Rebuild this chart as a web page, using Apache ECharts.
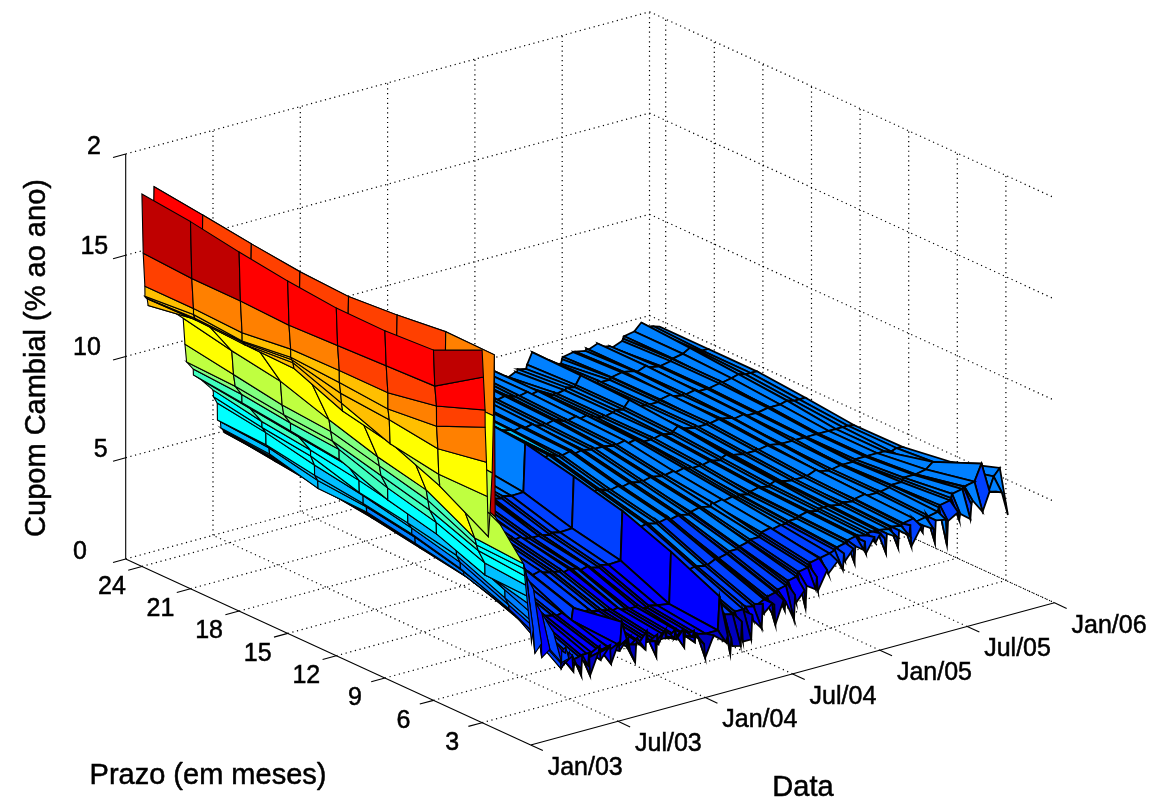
<!DOCTYPE html>
<html><head><meta charset="utf-8">
<style>html,body{margin:0;background:#fff}#c{width:1158px;height:810px}</style>
<script src="https://cdn.jsdelivr.net/npm/echarts@6/dist/echarts.min.js"></script>
</head><body><div id="c"></div>
<script>
// Tick values and labels
const dateTicks=[0,1,2,3,4,5,6];
const dateLabels=['Jan/03','Jul/03','Jan/04','Jul/04','Jan/05','Jul/05','Jan/06'];
const prazoTicks=[24,21,18,15,12,9,6,3];
const zTicks=[0,5,10,15,20];
const zLabels=['0','5','10','15','2'];
// Surface columns: prazo in months
const prazoCols=[24,21,18,15,12,9,6,3,2.5];
// Surface rows: date in half-years since Jan/03
const rowDates=[0,.015,.034,.035,.05,.06,.072,.09,.115,.13,.14,.15,.2,
.473,.493,.512,.588,.59,.684,.817,.82,.863,.865,.90,.905,
.94,.952,.964,1.03,1.042,1.054,1.12,1.132,1.144,1.24,1.252,1.264,1.36,1.372,1.384,1.47,1.482,1.58,1.6,
1.66,1.672,1.684,1.78,1.792,1.804,1.89,1.902,1.914,1.926,2,2.012,2.024,2.11,2.122,2.134,2.21,2.222,2.234,2.32,2.332,2.344,2.356,2.45,2.462,2.56,2.7,2.72,
2.75,2.762,2.774,2.87,2.882,2.894,2.99,3.002,3.014,3.11,3.122,3.134,3.23,3.242,3.254,3.266,3.36,3.372,3.384,3.48,3.492,3.504,3.6,3.612,3.624,3.73,3.742,3.754,3.86,3.872,3.98,
4.04,4.052,4.064,4.16,4.172,4.184,4.28,4.292,4.304,4.4,4.412,4.47,4.52,4.532,4.544,4.66,4.672,4.684,4.8,4.812,4.824,4.94,4.952,4.964,5.08,5.092,5.104,5.22,5.232,5.244,5.36,5.372,5.384,5.5,5.512,5.524,5.64,5.72,5.8,5.86,5.93];
// Cupom cambial (% ao ano), one list per row, one value per prazo column
const rowValues=[
[18.39,18.13,17.73,17.4,17.17,17.15,17.3,18.4,null],
[15.45,15.3,15.3,15.2,15.3,15.4,15.5,17.05,null],
[13.8,13.8,13.7,14,14.05,14.05,14.5,15.4,null],
[13.3,13.5,13.3,13.6,13.45,13.25,13.5,14.55,null],
[13.2,13.3,13.2,13.45,12.9,12.7,12.37,12.8,null],
[13.15,13.2,13.1,13.3,12.4,11.5,11.1,11.1,null],
[12.8,13.2,13.05,13,12,11.5,10.5,9.1,null],
[13.3,13.4,13.3,13.2,12.6,12,11,10.2,null],
[14,14,13.9,13.7,13.3,13,12.4,12.2,null],
[16.8,15.5,15.5,15.5,15.5,15.5,15,15,null],
[18.59,18.29,17.97,17.7,17.57,17.76,18.04,18,null],
[13.3,13.6,13.5,13.4,12.5,12,11,10,null],
[12.8,12.8,12.8,12.8,12.3,11.9,10.9,9.6,null],
[11.7,11.2,10.8,10,9.27,8.74,7.46,7.3,3.6],
[10.4,10,9.6,9.4,8.8,8.2,7.1,7,4.2],
[9.5,9.4,9.1,8.9,8.3,7.7,6.8,6.6,3],
[9.06,8.9,8.6,8.4,7.6,7,6.1,5.9,3.4],
[8.77,8.5,8.2,7.9,7,6.43,5.5,5.4,2.7],
[8.4,8.1,7.8,7.5,6.7,6.1,5.2,4.6,3],
[7.75,7.3,7,6.6,6.1,5.5,4.5,3.5,2.2],
[7.42,7,6.7,6,5.6,5.1,4.1,3.1,2.8],
[7.06,6.7,6.2,5.8,5.3,4.7,3.7,2.7,2.6],
[6.22,6.1,5.7,5.4,5,4.4,3.5,2.3,2.9],
[6.09,5.9,5.4,5.2,4.8,4.2,3.4,1.9,2.3],
[5.78,5.6,5.0,4.94,4.5,4.03,3.3,1.6,2.6],
[5.6,5.4,5,4.8,4.4,3.9,3.1,1.8,2.4],
[5.5,5.3,5,4.7,4.3,3.9,3,1.9,1.6],
[5.5,5.2,4.9,4.6,4.2,3.8,3,1.9,2],
[5.4,5.2,4.8,4.6,4.2,3.7,2.9,1.8,1.7],
[5.5,5.3,5,4.7,4.3,3.8,3,2,1.3],
[5.4,5.1,4.8,4.5,4.1,3.7,2.9,1.9,2.3],
[5.3,5,4.7,4.5,4,3.6,2.8,1.9,1.7],
[5.4,5.2,4.9,4.6,4.1,3.7,2.9,2,2.3],
[5.3,5,4.7,4.4,3.9,3.5,2.8,1.9,1.17],
[5.2,4.9,4.6,4.3,3.8,3.4,2.7,1.8,2.2],
[5.3,5,4.7,4.4,4,3.6,2.8,2,2.5],
[5.2,4.9,4.6,4.3,3.9,3.5,2.7,1.9,1.8],
[5.2,4.9,4.5,4.3,3.8,3.4,2.6,1.9,2.3],
[5.3,5,4.7,4.4,3.9,3.5,2.7,2,2.4],
[5.1,4.8,4.5,4.2,3.7,3.3,2.5,1.8,1.47],
[5.2,4.9,4.6,4.3,3.8,3.4,2.6,1.9,2.4],
[5.1,4.8,4.5,4.2,3.7,3.3,2.4,1.9,2],
[5,4.7,4.4,4.1,3.6,3.2,2.1,1.96,2.5],
[5.2,4.9,4.6,4.3,3.9,3.5,2.7,3.1,1.9],
[5,4.7,4.4,4.1,3.6,3.1,2.2,1.8,1.22],
[5.1,4.8,4.5,4.2,3.7,3.2,2.4,1.9,2.1],
[5,4.7,4.4,4.1,3.6,3.1,2.3,1.8,2.4],
[5.1,4.8,4.5,4.2,3.7,3.2,2.4,1.9,1.7],
[5,4.7,4.4,4,3.5,3.1,2.2,1.8,2.6],
[5,4.7,4.4,4.1,3.6,3.1,2.3,1.9,2.2],
[4.9,4.6,4.3,4,3.5,3,2.2,1.8,2],
[5,4.7,4.4,4.1,3.6,3.1,2.3,1.9,1.22],
[4.9,4.6,4.3,3.9,3.4,2.9,2.1,1.8,2.3],
[5,4.7,4.3,4,3.5,3,2.2,1.8,1.8],
[4.9,4.6,4.2,3.9,3.4,2.9,2.1,1.7,2.4],
[4.9,4.6,4.3,4,3.5,3,2.2,1.8,2],
[4.8,4.5,4.2,3.9,3.3,2.8,2,1.7,2.3],
[4.9,4.6,4.3,3.9,3.4,2.9,2.1,1.8,1.9],
[4.8,4.5,4.2,3.8,3.3,2.8,2,1.7,2.3],
[4.9,4.6,4.3,3.9,3.3,2.9,2,1.7,1.8],
[4.8,4.5,4.1,3.8,3.2,2.8,1.9,1.6,2.2],
[4.9,4.6,4.2,3.9,3.3,2.8,2,1.7,1.3],
[4.8,4.5,4.1,3.8,3.2,2.7,1.9,1.6,2.1],
[4.8,4.5,4.2,3.9,3.2,2.8,1.9,1.6,1.7],
[4.9,4.6,4.2,3.9,3.3,2.8,2,1.6,2],
[4.8,4.5,4.1,3.8,3.2,2.7,1.8,1.5,1.4],
[4.8,4.5,4.2,3.9,3.2,2.7,1.8,1.5,1.8],
[4.7,4.4,4.1,3.8,3.1,2.6,1.7,1.4,1.2],
[4.8,4.5,4.1,3.9,3.2,2.7,1.8,1.5,.5],
[4.7,4.4,4.1,3.8,3.1,2.6,1.7,1.4,1.5],
[4.7,4.4,4.1,3.81,3.13,2.64,1.6,1.4,1],
[6.7,6.5,6.4,6.2,5.67,5.07,4.15,3.04,1.3],
[5.9,5.8,5.6,5.5,5,4.4,3.4,2.3,.35],
[5.6,5.5,5.4,5.2,4.7,4.1,3.1,2,1.1],
[5.7,5.6,5.5,5.3,4.8,4.2,3.2,2.1,.72],
[5.5,5.4,5.3,5.1,4.6,4,3,2,.62],
[5.6,5.5,5.4,5.2,4.7,4.1,3,2,1.8],
[5.5,5.4,5.3,5.2,4.6,4,3,2.1,.8],
[5.6,5.5,5.4,5.3,4.7,4.1,3.1,2.1,.8],
[5.5,5.4,5.3,5.2,4.6,4,3,2,2],
[5.5,5.5,5.4,5.3,4.7,4.1,3.1,2.2,1.7],
[5.4,5.4,5.3,5.1,4.5,4,3,2.1,1.2],
[5.5,5.4,5.3,5.2,4.6,4.1,3.1,2.2,2.4],
[5.4,5.3,5.2,5.1,4.5,4,3,2.1,1.9],
[5.5,5.4,5.3,5.2,4.6,4.1,3.2,2.3,2.3],
[5.4,5.3,5.2,5.1,4.5,4,3.1,2.2,1.7],
[5.5,5.4,5.3,5.2,4.6,4.1,3.2,2.3,2.2],
[5.3,5.3,5.2,5,4.5,4,3.2,2.4,1.2],
[5.4,5.4,5.3,5.1,4.6,4.1,3.3,2.5,2.3],
[5.3,5.2,5.1,5,4.5,4,3.3,2.5,1.8],
[5.4,5.3,5.2,5.1,4.6,4.1,3.4,2.6,2.2],
[5.3,5.2,5.1,5,4.5,4,3.4,2.7,1.2],
[5.4,5.3,5.2,5.1,4.6,4.1,3.5,2.8,2.4],
[5.3,5.2,5.1,5,4.5,4.1,3.5,2.9,2],
[5.4,5.3,5.2,5,4.6,4.2,3.6,3,2.5],
[5.2,5.2,5.1,4.9,4.5,4.1,3.6,3.1,1.6],
[5.3,5.3,5.2,5,4.6,4.2,3.7,3.2,2.7],
[5.2,5.1,5,4.9,4.5,4.1,3.7,3.3,2.4],
[5.3,5.2,5.1,5,4.6,4.3,3.8,3.4,3],
[5.1,5.1,5,4.9,4.5,4.2,3.9,3.5,2.3],
[5.2,5.2,5.1,5,4.6,4.3,4,3.6,3.2],
[5,5,4.9,4.8,4.5,4.2,3.9,3.6,3],
[5.1,5.1,5,4.9,4.6,4.3,4,3.7,3.5],
[4.2,4.8,4.8,4.8,4.5,4.2,4,3.8,3],
[4.6,4.9,4.9,4.8,4.6,4.3,4.1,3.9,3.8],
[4.4,4.8,4.8,4.7,4.5,4.3,4.1,3.9,3.4],
[4.3,4.7,4.7,4.7,4.5,4.2,4.1,4,3.9],
[4.5,4.8,4.8,4.8,4.6,4.3,4.2,4.1,3.2],
[4.4,4.7,4.7,4.7,4.5,4.3,4.2,4.1,4],
[4.6,4.8,4.8,4.8,4.6,4.4,4.3,4.2,3.7],
[4.5,4.7,4.7,4.7,4.5,4.3,4.2,4.1,4.1],
[4.7,4.9,4.9,4.8,4.6,4.4,4.3,4.2,3.5],
[4.6,4.8,4.8,4.7,4.5,4.3,4.2,4.1,4.2],
[4.8,4.9,4.9,4.8,4.6,4.4,4.3,4.2,3.9],
[5.35,5.3,5.2,5,4.7,4.5,4.3,4.2,4.3],
[4.9,4.9,4.9,4.8,4.6,4.4,4.3,4.2,4],
[4.7,4.8,4.8,4.7,4.5,4.3,4.2,4.1,3.26],
[4.8,4.8,4.8,4.8,4.6,4.4,4.3,4.2,4.2],
[4.6,4.7,4.7,4.7,4.5,4.3,4.2,4.1,3.9],
[4.7,4.8,4.8,4.8,4.6,4.4,4.3,4.2,3.36],
[4.5,4.7,4.7,4.7,4.5,4.3,4.3,4.2,4.2],
[4.4,4.7,4.7,4.7,4.5,4.3,4.2,4.1,3.8],
[4.6,4.8,4.8,4.8,4.6,4.4,4.3,4.2,4.3],
[4.7,4.8,4.8,4.7,4.5,4.3,4.3,4.2,3.24],
[4.8,4.9,4.9,4.8,4.6,4.5,4.4,4.3,4.1],
[4.7,4.8,4.8,4.7,4.5,4.4,4.3,4.2,3.8],
[4.8,4.9,4.8,4.8,4.6,4.4,4.3,4.1,4.1],
[4.7,4.8,4.7,4.7,4.5,4.3,4.3,4.2,3.8],
[4.8,4.8,4.8,4.7,4.5,4.4,4.4,4.3,3.14],
[4.7,4.7,4.7,4.6,4.5,4.3,4.3,4.2,4.2],
[4.9,4.9,4.8,4.7,4.5,4.4,4.4,4.3,4.1],
[4.8,4.8,4.8,4.7,4.6,4.4,4.5,4.5,2.82],
[4.7,4.8,4.7,4.6,4.5,4.4,4.5,4.6,4],
[4.6,4.7,4.7,4.6,4.5,4.4,4.5,4.7,4.3],
[4.5,4.7,4.7,4.6,4.5,4.4,4.6,4.8,3.9],
[4.5,4.7,4.7,4.6,4.5,4.5,4.7,5,4.2],
[4.7,4.8,4.8,4.7,4.5,4.5,4.7,5.1,3.8],
[4.8,4.9,4.9,4.7,4.5,4.5,4.7,5.2,4.5],
[4.9,4.9,4.8,4.7,4.5,4.5,4.7,5.2,4.7],
[5,5,4.9,4.7,4.5,4.5,4.8,5.3,4],
[5.35,5.2,5,4.8,4.5,4.5,5.08,6.1,4.9],
[5,5,4.9,4.7,4.5,4.4,4.3,4.6,4.8],
[5,4.9,4.9,4.7,4.5,4.5,4.7,5.3,4.7],
[4.9,4.9,4.9,4.7,4.45,4.47,4.83,5.64,3.5]
];
// Colour scale
const jetColours=['#0000BF','#0000FF','#0040FF','#0080FF','#00BFFF','#00FFFF','#40FFBF','#80FF80','#BFFF40','#FFFF00','#FFBF00','#FF8000','#FF4000','#FF0000','#BF0000','#800000'];
const colourMin=.3, colourStep=1.255;

// Orthographic view of the box (date D, prazo p, value z) onto the chart plane
function project(D,p,z){return [530.7+87.3*D-16.2*p, 745-23.7*D-7.44*p-20.25*z];}
function colourOf(v){let k=Math.floor((v-colourMin)/colourStep);return jetColours[Math.max(0,Math.min(15,k))];}

// Guides
const P_MAX=25,D_MAX=6,Z_MAX=20;
const guides=[];
function add(a,b,kind){guides.push([a,b,kind]);}
prazoTicks.forEach(p=>{add([0,p,0],[D_MAX,p,0],'dot');add([D_MAX,p,0],[D_MAX,p,Z_MAX],'dot');add([0,p,0],[-.157,p,0],'solid');});
dateTicks.forEach(d=>{if(d>0){add([d,0,0],[d,P_MAX,0],'dot');add([d,P_MAX,0],[d,P_MAX,Z_MAX],'dot');}add([d,0,0],[d,-.75,0],'solid');});
zTicks.forEach(z=>{add([0,P_MAX,z],[D_MAX,P_MAX,z],'dot');add([D_MAX,P_MAX,z],[D_MAX,0,z],'dot');add([0,P_MAX,z],[-.145,P_MAX,z],'solid');});
add([0,P_MAX,0],[0,P_MAX,Z_MAX],'solid');
add([0,0,0],[0,P_MAX,0],'solid');
add([0,0,0],[D_MAX,0,0],'solid');

// Surface cells, back to front
const cells=[];
const nRows=Math.min(rowDates.length,rowValues.length);
for(let i=nRows-2;i>=0;i--)for(let j=0;j<prazoCols.length-1;j++){
  if(rowValues[i][j+1]==null||rowValues[i+1][j+1]==null)continue;
  cells.push([i,j]);
}

const texts=[];
const zLabelX=[80,100.7,87,94.3,94];
const zLabelY=[552,450,348,247,147];
zLabels.forEach((t,k)=>texts.push({t,x:zLabelX[k],y:zLabelY[k],size:25}));
prazoTicks.forEach(p=>{const q=project(0,p,0);texts.push({t:String(p),x:q[0]-30,y:q[1]+20.5,size:25});});
dateLabels.forEach((t,k)=>{const q=project(dateTicks[k],0,0);texts.push({t,x:q[0]+17,y:q[1]+23,size:25,align:'left'});});
texts.push({t:'Prazo (em meses)',x:208,y:776,size:29});
texts.push({t:'Data',x:803,y:788,size:29});
texts.push({t:'Cupom Cambial (% ao ano)',x:37,y:358,size:29,rot:Math.PI/2});

const chart=echarts.init(document.getElementById('c'),null,{renderer:'canvas'});
chart.setOption({
 animation:false,backgroundColor:'#fff',
 grid:{left:0,right:0,top:0,bottom:0},
 xAxis:{type:'value',min:0,max:1158,show:false},
 yAxis:{type:'value',min:0,max:810,inverse:true,show:false},
 series:[
 {type:'custom',silent:true,clip:false,coordinateSystem:'cartesian2d',data:guides.map((g,k)=>[k]),
  renderItem(params,api){
   const g=guides[api.value(0)];
   const a=api.coord(project(...g[0])),b=api.coord(project(...g[1]));
   const dot=g[2]==='dot';
   return {type:'line',shape:{x1:a[0],y1:a[1],x2:b[0],y2:b[1]},
     style:{stroke:'#000',lineWidth:dot?1.2:1.1,lineDash:dot?[1.2,3.6]:null}};
  }},
 {type:'custom',silent:true,clip:false,coordinateSystem:'cartesian2d',data:cells,progressive:0,
  renderItem(params,api){
   const i=api.value(0),j=api.value(1);
   const pts=[[i,j],[i,j+1],[i+1,j+1],[i+1,j]].map(([r,c])=>api.coord(project(rowDates[r],prazoCols[c],rowValues[r][c])));
   const v=j===7?rowValues[i][8]:Math.max(rowValues[i][j],rowValues[i][j+1]);
   const dense=rowDates[i]>.92;
   return {type:'polygon',shape:{points:pts},style:{fill:colourOf(v),stroke:'#000',lineWidth:dense?1.8:1.1}};
  }},
 {type:'custom',silent:true,clip:false,coordinateSystem:'cartesian2d',data:texts.map((t,k)=>[k]),
  renderItem(params,api){
   const t=texts[api.value(0)];
   const c=api.coord([t.x,t.y]);
   return {type:'text',x:c[0],y:c[1],rotation:t.rot||0,
     style:{text:t.t,fill:'#000',stroke:'#000',lineWidth:.5,font:t.size+'px "Liberation Sans", Arial, sans-serif',align:t.align||'center',verticalAlign:'middle'}};
  }}
 ]
});
</script></body></html>
